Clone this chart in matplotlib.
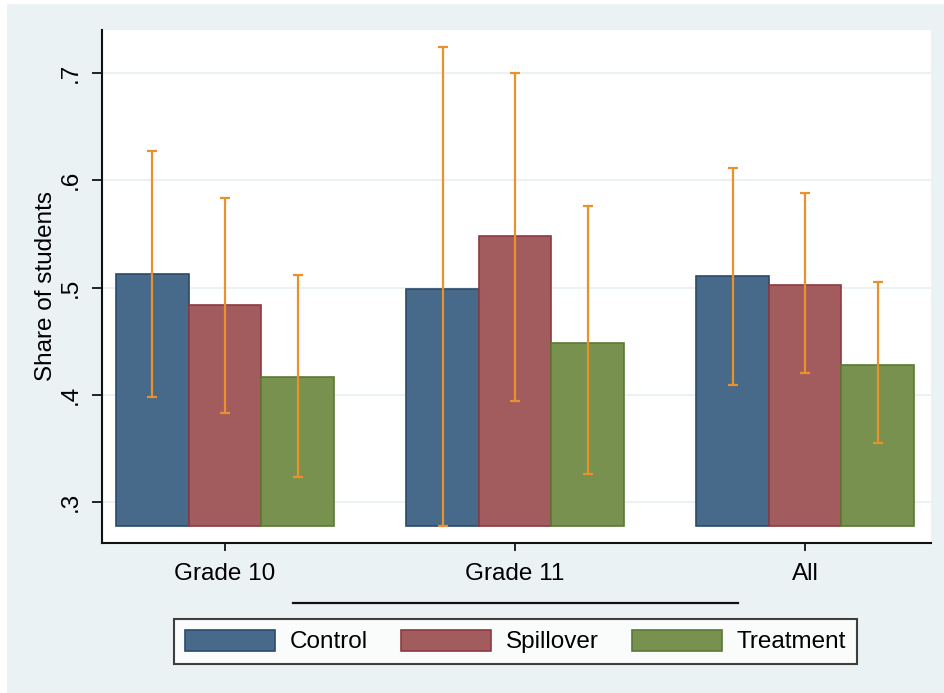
import numpy as np
import matplotlib.pyplot as plt
from matplotlib.lines import Line2D
from matplotlib.patches import Rectangle

plt.rcParams['font.family'] = ['Liberation Sans', 'DejaVu Sans']

groups = ['Grade 10', 'Grade 11', 'All']
series = ['Control', 'Spillover', 'Treatment']
means = {
    'Control':   [0.5124, 0.499, 0.5103],
    'Spillover': [0.4839, 0.5478, 0.5025],
    'Treatment': [0.4165, 0.4487, 0.4277],
}
ci_low = {
    'Control':   [0.3975, 0.2776, 0.409],
    'Spillover': [0.383, 0.3944, 0.420],
    'Treatment': [0.323, 0.326, 0.3547],
}
ci_high = {
    'Control':   [0.6277, 0.7245, 0.611],
    'Spillover': [0.583, 0.7003, 0.5879],
    'Treatment': [0.5118, 0.5758, 0.5047],
}
yticks = [0.3, 0.4, 0.5, 0.6, 0.7]
yticklabels = ['.3', '.4', '.5', '.6', '.7']
bar_base = 0.2776

fill = {'Control': '#476a8a', 'Spillover': '#a35c5e', 'Treatment': '#78914f'}
edge = {'Control': '#2b4a6b', 'Spillover': '#8c3a40', 'Treatment': '#5a7a35'}
bg = '#eaf2f3'
err_col = '#e8912d'
fs = 17.5

fig = plt.figure(figsize=(9.44, 6.93), dpi=100)
fig.patch.set_facecolor('white')
fig.patches.append(Rectangle((7/944, 0), 1, 1 - 4/693, transform=fig.transFigure,
                             facecolor=bg, edgecolor='none', zorder=-10))

ax = fig.add_axes([102/944, (693-543)/693, (931-102)/944, (543-30)/693])
ax.set_facecolor('white')

x = np.arange(len(groups))
w = 0.25
for i, s in enumerate(series):
    xs = x + (i - 1) * w
    m = np.array(means[s])
    ax.bar(xs, m - bar_base, bottom=bar_base, width=w, color=fill[s],
           edgecolor=edge[s], linewidth=1.2, label=s, zorder=2)
    lo = m - np.array(ci_low[s])
    hi = np.array(ci_high[s]) - m
    ax.errorbar(xs, m, yerr=[lo, hi], fmt='none', ecolor=err_col,
                elinewidth=1.6, capsize=3.3, capthick=1.6, zorder=3)

ax.set_xlim(-0.424, 2.434)
ax.set_ylim(0.2618, 0.7401)
ax.set_yticks(yticks)
ax.set_yticklabels(yticklabels)
ax.set_xticks(x)
ax.set_xticklabels(groups)
ax.grid(axis='y', color=bg, linewidth=1.5, zorder=0)
ax.set_axisbelow(True)

for sp in ['top', 'right']:
    ax.spines[sp].set_visible(False)
for sp in ['left', 'bottom']:
    ax.spines[sp].set_linewidth(1.5)
    ax.spines[sp].set_color('#111111')

ax.tick_params(axis='y', length=7.5, width=1.2, pad=7, labelsize=fs,
               labelrotation=90)
for t in ax.get_yticklabels():
    t.set_va('center')
ax.tick_params(axis='x', length=5.5, width=1.2, pad=9, labelsize=fs)

fig.text(46/944, 1 - 286/693, 'Share of students', rotation=90,
         ha='center', va='center', fontsize=fs)

fig.lines.append(Line2D([293/944, 738/944], [1 - 603/693, 1 - 603/693],
                        transform=fig.transFigure, color='#111111', linewidth=1.6))

leg = fig.legend(loc='center', bbox_to_anchor=(515.5/944, 1 - 641.5/693),
                 ncol=3, fontsize=fs, frameon=True, fancybox=False,
                 handlelength=3.7, handleheight=0.95, handletextpad=0.58,
                 columnspacing=1.4, borderpad=0.45)
leg.get_frame().set_edgecolor('#111111')
leg.get_frame().set_linewidth(1.5)

fig.savefig('out.png', dpi=100, facecolor=fig.get_facecolor())
